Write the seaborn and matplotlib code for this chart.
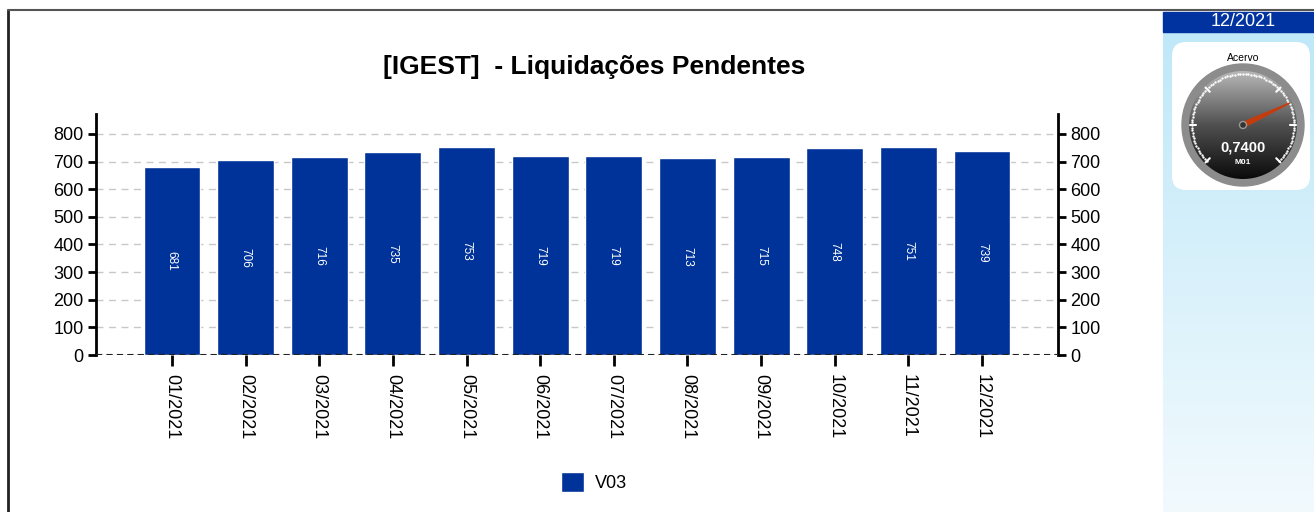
import numpy as np
import pandas as pd
import matplotlib
matplotlib.use('Agg')
import matplotlib.pyplot as plt
import seaborn as sns
from matplotlib.patches import Rectangle, Circle, FancyBboxPatch, Polygon

months = ['01/2021', '02/2021', '03/2021', '04/2021', '05/2021', '06/2021',
          '07/2021', '08/2021', '09/2021', '10/2021', '11/2021', '12/2021']
values = [681, 706, 716, 735, 753, 719, 719, 713, 715, 748, 751, 739]
series_name = 'V03'
title = '[IGEST]  - Liquidações Pendentes'
yticks = [0, 100, 200, 300, 400, 500, 600, 700, 800]

gauge_period = '12/2021'
gauge_title = 'Acervo'
gauge_value = 0.74
gauge_text = '0,7400'
gauge_code = 'M01'

sns.set_style('white')
plt.rcParams['font.family'] = ['Liberation Sans', 'DejaVu Sans']
plt.rcParams.update({'text.color': 'black', 'axes.labelcolor': 'black',
                     'xtick.color': 'black', 'ytick.color': 'black'})

BLUE = '#003399'
W, H = 1314, 512
fig = plt.figure(figsize=(W / 100, H / 100), dpi=100)

# background layer in pixel coords
bg = fig.add_axes([0, 0, 1, 1], zorder=0)
bg.set_xlim(0, W)
bg.set_ylim(H, 0)
bg.axis('off')

# outer frame of the chart panel
bg.plot([8, 8], [10, H], color='#222222', lw=2)
bg.plot([8, W], [10, 10], color='#555555', lw=1.5)

# right panel gradient
grad = np.linspace(0, 1, 256).reshape(-1, 1)
cmap = matplotlib.colors.LinearSegmentedColormap.from_list('pan', ['#bfe8f8', '#f2fafe'])
bg.imshow(grad, extent=(1163, W, H, 32), cmap=cmap, aspect='auto', zorder=1)
bg.add_patch(Rectangle((1163, 12), W - 1163, 20, color='#0033a0', zorder=2))
bg.text(1243, 22, gauge_period, color='white', fontsize=13, ha='center', va='center', zorder=3)

# gauge box
bg.add_patch(FancyBboxPatch((1186, 56), 110, 120, boxstyle='round,pad=14',
                            fc='white', ec='none', zorder=2))
bg.text(1243, 58, gauge_title, fontsize=7.5, ha='center', va='center', zorder=3)
cx, cy = 1243, 125
bg.add_patch(Circle((cx, cy), 61, color='#8c8c8c', zorder=3))
dial = np.linspace(0, 1, 256).reshape(-1, 1)
dcmap = matplotlib.colors.LinearSegmentedColormap.from_list('dial', ['#b8b8b8', '#505050', '#0a0a0a'])
im = bg.imshow(dial, extent=(cx - 54, cx + 54, cy + 54, cy - 54), cmap=dcmap, aspect='auto', zorder=4)
clip = Circle((cx, cy), 54, transform=bg.transData)
im.set_clip_path(clip)
# minor ticks (dotted ring) and major ticks
ang = np.radians(np.linspace(225, -45, 91))
bg.scatter(cx + 51 * np.cos(ang), cy - 51 * np.sin(ang), s=0.5, color='white', zorder=5)
for a in np.radians([225, 180, 135, 45, 0, -45]):
    bg.plot([cx + 47 * np.cos(a), cx + 53 * np.cos(a)],
            [cy - 47 * np.sin(a), cy - 53 * np.sin(a)], color='white', lw=1.5, zorder=5)
na = np.radians(225 - gauge_value * 270)
px, py = -np.sin(na), -np.cos(na)
tip = (cx + 52 * np.cos(na), cy - 52 * np.sin(na))
bg.add_patch(Polygon([(cx + 2.5 * px, cy + 2.5 * py), tip, (cx - 2.5 * px, cy - 2.5 * py)],
                     color='#c43c0c', zorder=6))
bg.add_patch(Circle((cx, cy), 3.5, fc='#333333', ec='#999999', lw=1, zorder=7))
bg.text(cx, 147, gauge_text, color='white', fontsize=10.5, fontweight='bold', ha='center', va='center', zorder=6)
bg.text(cx, 162, gauge_code, color='white', fontsize=6, fontweight='bold', ha='center', va='center', zorder=6)

# main chart
ax = fig.add_axes([96 / W, 157 / H, 962 / W, 241 / H], zorder=2)
ax.set_facecolor('none')
df = pd.DataFrame({'month': months, 'value': values})
sns.barplot(data=df, x='month', y='value', color=BLUE, saturation=1, width=0.77,
            ax=ax, label=series_name, zorder=3)
if ax.get_legend() is not None:
    ax.get_legend().remove()
ax.bar_label(ax.containers[0], labels=[str(v) for v in values], label_type='center',
             rotation=-90, color='white', fontsize=8.5)
ax.set_xlim(-1.03, 12.03)
ax.set_ylim(0, 872)
ax.set_yticks(yticks)
ax.set_xlabel('')
ax.set_ylabel('')
ax.grid(axis='y', color='#c8c8c8', linestyle=(0, (5, 4)), lw=1, zorder=0)
ax.axhline(0, color='#222222', linestyle=(0, (3, 2)), lw=1.5, zorder=4)
for s in ['top', 'bottom']:
    ax.spines[s].set_visible(False)
for s in ['left', 'right']:
    ax.spines[s].set_linewidth(2)
    ax.spines[s].set_color('black')
ax.tick_params(axis='y', which='both', left=True, right=True, labelleft=True, labelright=True,
               length=6, width=2, labelsize=13, pad=3, direction='out')
ax.tick_params(axis='x', bottom=True, length=8, width=2, labelsize=13, pad=6, labelrotation=-90)

fig.text(594 / W, 1 - 67 / H, title, fontsize=19, fontweight='bold', ha='center', va='center')
fig.legend(loc='center', bbox_to_anchor=(594 / W, 1 - 482 / H), frameon=False,
           fontsize=13, handlelength=1.3, handleheight=1.3, handletextpad=0.6)

fig.savefig('out.png', dpi=100)
